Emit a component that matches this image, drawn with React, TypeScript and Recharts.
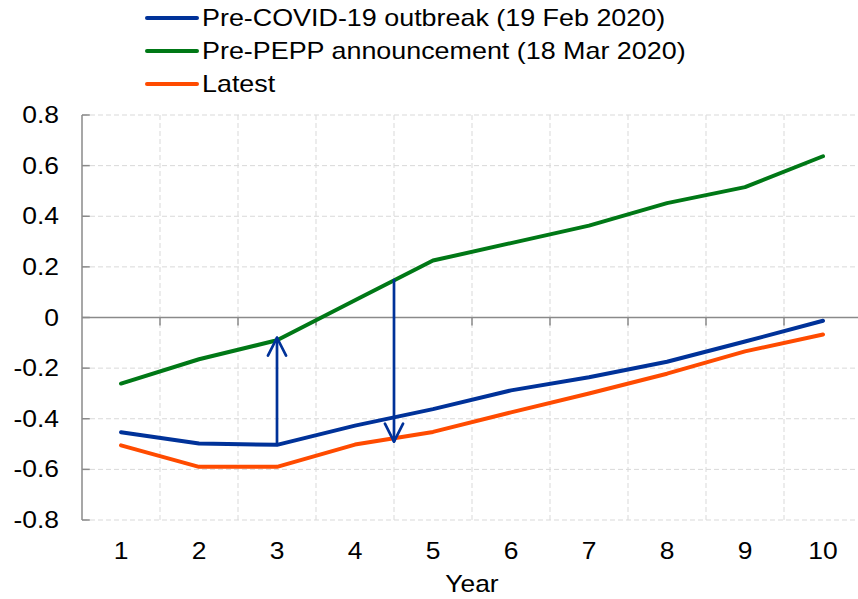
import { LineChart, Line, XAxis, YAxis, CartesianGrid, ReferenceLine } from 'recharts';

const years = [1, 2, 3, 4, 5, 6, 7, 8, 9, 10];
const preCovid = [-0.453, -0.498, -0.503, -0.427, -0.362, -0.288, -0.236, -0.175, -0.095, -0.013];
const prePepp = [-0.261, -0.165, -0.09, 0.068, 0.225, 0.294, 0.363, 0.452, 0.515, 0.637];
const latest = [-0.505, -0.59, -0.59, -0.502, -0.452, -0.375, -0.3, -0.222, -0.134, -0.067];

const seriesNames = [
  'Pre-COVID-19 outbreak (19 Feb 2020)',
  'Pre-PEPP announcement (18 Mar 2020)',
  'Latest',
];
const seriesKeys = ['preCovid', 'prePepp', 'latest'];
const seriesColors = ['#003299', '#007816', '#FF4B00'];

const yTicks = [-0.8, -0.6, -0.4, -0.2, 0, 0.2, 0.4, 0.6, 0.8];
const bandEdges = [1.5, 2.5, 3.5, 4.5, 5.5, 6.5, 7.5, 8.5, 9.5];

// arrows: x position, start value, end value
const arrowX = [3, 4.5];
const arrowFrom = [-0.503, 0.148];
const arrowTo = [-0.08, -0.49];

const data = years.map((y, i) => ({
  year: y,
  preCovid: preCovid[i],
  prePepp: prePepp[i],
  latest: latest[i],
}));

const FONT = '"Liberation Sans", Arial, sans-serif';
const AXIS = '#8a8a8a';
const GRID = '#d9d9d9';

function YTick(props: any) {
  const { x, y, payload } = props;
  const v = payload.value;
  const label = Math.abs(v) < 1e-9 ? '0' : v.toFixed(1);
  return (
    <text
      transform={`translate(${x},${y}) scale(1.15,1)`}
      textAnchor="end"
      dy="0.35em"
      fontSize={23}
      fontFamily={FONT}
      fill="#000"
    >
      {label}
    </text>
  );
}

function XTick(props: any) {
  const { x, y, payload } = props;
  return (
    <text
      transform={`translate(${x},${y}) scale(1.15,1)`}
      textAnchor="middle"
      dy="0.71em"
      fontSize={23}
      fontFamily={FONT}
      fill="#000"
    >
      {payload.value}
    </text>
  );
}

function YearLabel(props: any) {
  const { viewBox } = props;
  const cx = viewBox.x + viewBox.width / 2;
  const by = viewBox.y + viewBox.height - 7;
  return (
    <text
      transform={`translate(${cx},${by}) scale(1.1,1)`}
      textAnchor="middle"
      fontSize={24}
      fontFamily={FONT}
      fill="#000"
    >
      Year
    </text>
  );
}

function Arrow(props: any) {
  const { x1, y1, x2, y2 } = props;
  const ang = Math.atan2(y2 - y1, x2 - x1);
  const len = 20;
  const spread = (27 * Math.PI) / 180;
  const ax1 = x2 - len * Math.cos(ang - spread);
  const ay1 = y2 - len * Math.sin(ang - spread);
  const ax2 = x2 - len * Math.cos(ang + spread);
  const ay2 = y2 - len * Math.sin(ang + spread);
  return (
    <g stroke="#003299" strokeWidth={2.7} fill="none" strokeLinecap="round" strokeLinejoin="round">
      <line x1={x1} y1={y1} x2={x2} y2={y2} />
      <polyline points={`${ax1},${ay1} ${x2},${y2} ${ax2},${ay2}`} />
    </g>
  );
}

export default function App() {
  return (
    <div
      style={{
        position: 'fixed',
        left: 0,
        top: 0,
        width: 858,
        height: 599,
        overflow: 'hidden',
        background: '#fff',
        fontFamily: FONT,
      }}
    >
      <div style={{ position: 'absolute', left: 145, top: 1 }}>
        {seriesNames.map((name, i) => (
          <div key={name} style={{ display: 'flex', alignItems: 'center', height: 33 }}>
            <div style={{ width: 54, height: 4, borderRadius: 2, background: seriesColors[i] }} />
            <span
              style={{
                marginLeft: 3,
                fontSize: 24,
                lineHeight: '33px',
                color: '#000',
                whiteSpace: 'nowrap',
                display: 'inline-block',
                transform: 'scaleX(1.12)',
                transformOrigin: 'left center',
              }}
            >
              {name}
            </span>
          </div>
        ))}
      </div>

      <LineChart
        width={866}
        height={599}
        data={data}
        margin={{ top: 115, right: 4, left: 0, bottom: 0 }}
      >
        <CartesianGrid vertical={false} stroke={GRID} strokeDasharray="5 3" />
        {bandEdges.map((b) => (
          <ReferenceLine key={'g' + b} x={b} stroke={GRID} strokeDasharray="5 3" />
        ))}
        <XAxis
          dataKey="year"
          type="number"
          domain={[0.5, 10.5]}
          ticks={years}
          axisLine={false}
          tickLine={false}
          tickSize={0}
          tickMargin={23}
          height={79}
          tick={<XTick />}
          interval={0}
          label={{ value: 'Year', content: <YearLabel /> }}
        />
        <YAxis
          type="number"
          domain={[-0.8, 0.8]}
          ticks={yTicks}
          width={82}
          axisLine={{ stroke: AXIS, strokeWidth: 1.5 }}
          tickLine={false}
          tickSize={0}
          tickMargin={23}
          tick={<YTick />}
          interval={0}
          allowDataOverflow
        />
        <ReferenceLine y={0} stroke={AXIS} strokeWidth={1.5} />
        {yTicks.map((t) => (
          <ReferenceLine
            key={'yt' + t}
            segment={[
              { x: 0.5, y: t },
              { x: 0.6, y: t },
            ]}
            stroke={AXIS}
            strokeWidth={1.5}
          />
        ))}
        {bandEdges.map((b) => (
          <ReferenceLine
            key={'xt' + b}
            segment={[
              { x: b, y: 0 },
              { x: b, y: -0.032 },
            ]}
            stroke={AXIS}
            strokeWidth={1.5}
          />
        ))}
        {seriesKeys.map((k, i) => (
          <Line
            key={k}
            type="linear"
            dataKey={k}
            name={seriesNames[i]}
            stroke={seriesColors[i]}
            strokeWidth={4}
            strokeLinecap="round"
            strokeLinejoin="round"
            dot={false}
            activeDot={false}
            isAnimationActive={false}
          />
        ))}
        {arrowX.map((ax, i) => (
          <ReferenceLine
            key={'a' + ax}
            segment={[
              { x: ax, y: arrowFrom[i] },
              { x: ax, y: arrowTo[i] },
            ]}
            shape={(p: any) => <Arrow {...p} />}
          />
        ))}
      </LineChart>
    </div>
  );
}
